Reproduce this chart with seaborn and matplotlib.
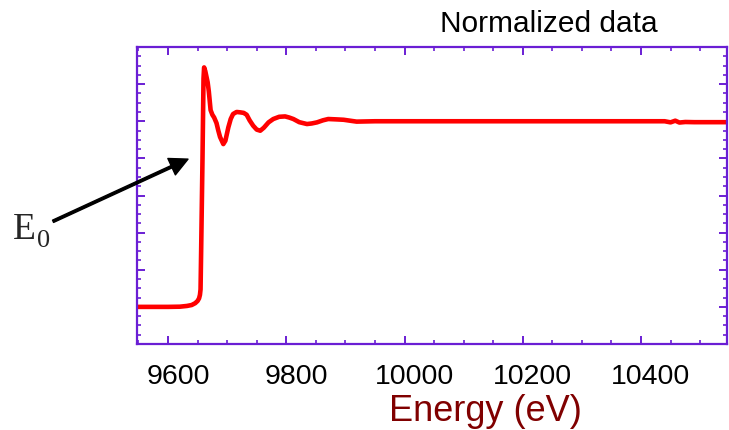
import numpy as np
import pandas as pd
import matplotlib
matplotlib.use("Agg")
import matplotlib.pyplot as plt
import matplotlib.transforms as mtransforms
from matplotlib.ticker import MultipleLocator
import seaborn as sns

# ---- data ----
energy = [9547, 9600, 9620, 9632, 9640, 9646, 9650, 9652.5, 9654, 9655, 9656, 9658.3,
          9660, 9661, 9663, 9665, 9667, 9669, 9672, 9675, 9678, 9682, 9685, 9688,
          9693.5, 9697, 9702, 9706, 9710, 9716, 9722, 9728, 9733, 9738, 9744, 9750,
          9756, 9762, 9770, 9778, 9788, 9798, 9805, 9812, 9822, 9835, 9843, 9852,
          9862, 9871, 9885, 9897, 9910, 9919, 9950, 10000, 10100, 10200, 10300,
          10400, 10440, 10450, 10458, 10465, 10475, 10490, 10546]
mu = [0, 0, 0.001, 0.005, 0.01, 0.02, 0.032, 0.046, 0.065, 0.094, 0.3, 0.8,
      1.23, 1.29, 1.27, 1.24, 1.21, 1.16, 1.06, 1.035, 1.02, 0.99, 0.95, 0.915,
      0.877, 0.895, 0.967, 1.012, 1.039, 1.05, 1.048, 1.045, 1.035, 1.005, 0.976, 0.955,
      0.949, 0.965, 0.994, 1.012, 1.024, 1.026, 1.02, 1.012, 0.995, 0.985, 0.988, 0.994,
      1.005, 1.012, 1.01, 1.008, 1.002, 0.998, 1.0, 1.0, 1.0, 1.0, 1.0,
      1.0, 1.0, 0.994, 1.003, 0.993, 0.996, 0.995, 0.995]
xticks = [9600, 9800, 10000, 10200, 10400]
xlabel = "Energy (eV)"
title = "Normalized data"
edge_label = "E"
edge_sub = "0"

df = pd.DataFrame({"Energy": energy, "mu": mu})

sns.set_theme(style="white")
plt.rcParams["font.family"] = ["Liberation Sans", "DejaVu Sans"]

purple = "#6a1ed4"

fig = plt.figure(figsize=(7.29, 4.31), dpi=100)
ax = fig.add_axes([137 / 729, 86 / 431, 590 / 729, 297 / 431])

sns.lineplot(data=df, x="Energy", y="mu", ax=ax, color="#ff0000",
             linewidth=3.3, sort=False)

ax.set_xlim(9547.5, 10545.5)
ax.set_ylim(-0.2, 1.4)

ax.xaxis.set_major_locator(MultipleLocator(200))
ax.xaxis.set_minor_locator(MultipleLocator(50))
ax.yaxis.set_major_locator(MultipleLocator(0.2))
ax.yaxis.set_minor_locator(MultipleLocator(0.05))
ax.set_xticks(xticks)
ax.set_xticklabels([str(t) for t in xticks])
ax.set_yticklabels([])

for s in ax.spines.values():
    s.set_visible(True)
    s.set_color(purple)
    s.set_linewidth(1.6)

ax.tick_params(which="both", direction="in", top=True, right=True,
               bottom=True, left=True, color=purple)
ax.tick_params(which="major", length=6, width=1.4)
ax.tick_params(which="minor", length=3, width=1.2)
ax.tick_params(axis="x", which="major", labelsize=20.5, pad=13.5, labelcolor="black")
ax.tick_params(axis="y", labelleft=False)

offset = mtransforms.ScaledTranslation(10 / 100, 0, fig.dpi_scale_trans)
for lab in ax.get_xticklabels():
    lab.set_transform(lab.get_transform() + offset)

ax.set_xlabel(xlabel, fontsize=26, color="#800000")
ax.xaxis.set_label_coords(0.59, -0.165)
ax.set_ylabel("")

fig.text(548.5 / 729, 1 - 31.7 / 431, title, fontsize=21.5, ha="center",
         va="baseline", color="black")

fig.text(13 / 729, 1 - 239 / 431, edge_label, fontsize=27,
         family=["Liberation Serif", "DejaVu Serif"], ha="left", va="baseline")
fig.text(37 / 729, 1 - 247 / 431, edge_sub, fontsize=19,
         family=["Liberation Serif", "DejaVu Serif"], ha="left", va="baseline")

ax.annotate("", xy=(9633.8, 0.796), xytext=(9405.5, 0.461),
            xycoords="data", textcoords="data", annotation_clip=False,
            arrowprops=dict(width=1.8, headwidth=13, headlength=13,
                            facecolor="black", edgecolor="black", shrink=0))

fig.savefig("out.png", dpi=100)
